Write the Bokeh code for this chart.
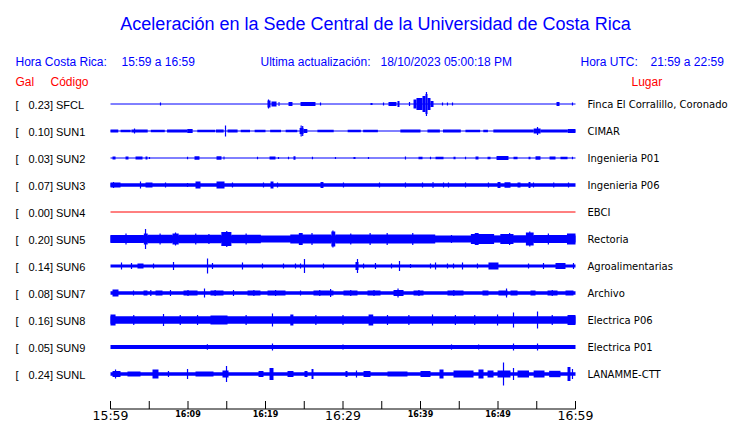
from bokeh.plotting import figure
from bokeh.models import Range1d, ColumnDataSource
from bokeh.core.properties import value
from bokeh.embed import file_html
from bokeh.resources import INLINE

# ---------------- data ----------------
codes = ["SFCL", "SUN1", "SUN2", "SUN3", "SUN4", "SUN5", "SUN6", "SUN7", "SUN8", "SUN9", "SUNL"]
gal = [0.23, 0.10, 0.03, 0.07, 0.00, 0.20, 0.14, 0.08, 0.16, 0.05, 0.24]
places = ["Finca El Corralillo, Coronado", "CIMAR", "Ingenieria P01", "Ingenieria P06", "EBCI",
          "Rectoria", "Agroalimentarias", "Archivo", "Electrica P06", "Electrica P01", "LANAMME-CTT"]

# background noise half-band of each trace (relative amplitude; 0 = flat line)
noise_band = [0, 0, 0, 1.8, 0, 3.5, 1.5, 1.7, 3.8, 2.0, 1.7]

# bursts: (start minute, end minute, half amplitude); minutes after 15:59
sfcl_bursts = [(20.26, 20.65, 3.5), (20.77, 21.42, 2.5), (21.68, 21.81, 2), (22.97, 23.48, 2),
               (24.52, 26.45, 2), (33.55, 33.81, 1), (35.87, 36.90, 2), (37.03, 37.29, 3),
               (39.10, 39.48, 4.5), (39.48, 40.26, 6), (40.26, 40.65, 8), (40.65, 40.90, 10),
               (40.90, 41.29, 6), (41.29, 41.68, 3), (57.55, 57.94, 2)]
sfcl_spikes = [(6.45, 1.5), (20.39, 4.5), (27.10, 1.5), (35.23, 1.5), (38.58, 2), (40.77, 12),
               (42.84, 1.5), (43.48, 1.5), (44.13, 1.5), (59.61, 1.5)]

sun1_bursts = [(0.0, 1.0, 1.5), (1.3, 2.6, 1.2), (2.7, 4.8, 1.5), (5.2, 7.0, 1.2), (7.3, 9.9, 1.5),
               (9.9, 10.6, 2), (11.2, 13.5, 1.2), (13.6, 14.6, 1.5), (15.1, 16.4, 1.5),
               (16.8, 18.0, 1.2), (18.6, 20.0, 1.2), (20.6, 22.0, 1.2), (22.6, 24.1, 1.2),
               (24.4, 24.9, 3), (24.9, 25.4, 2), (26.7, 28.8, 1.2), (30.6, 32.3, 1.2),
               (32.6, 34.5, 1.2), (37.4, 40.0, 1.5), (40.9, 42.5, 1.5), (42.9, 45.2, 1.5),
               (45.8, 47.7, 1.2), (48.1, 48.7, 1.2), (49.4, 54.6, 1.5), (54.6, 55.5, 2.5),
               (55.5, 59.0, 1.5), (59.0, 60.0, 2)]
sun1_spikes = [(3.10, 2.5), (14.84, 5.5), (24.6, 5.5), (24.8, 5), (55.10, 4)]

sun2_bursts = [(0.26, 0.65, 1.5), (1.94, 2.32, 1.5), (3.23, 4.13, 1.5), (4.52, 4.77, 1.5),
               (10.84, 11.48, 1.8), (13.68, 14.32, 1.8), (14.58, 14.71, 1.5), (20.52, 21.29, 1.5),
               (23.61, 23.87, 1.8), (31.35, 31.61, 1), (39.74, 40.26, 1.2), (41.94, 42.97, 1.2),
               (44.26, 44.52, 1.2), (47.10, 47.48, 1.5), (48.65, 49.03, 1.2), (49.81, 51.35, 2),
               (52.0, 52.52, 1.2), (53.94, 54.19, 1.2), (54.84, 55.48, 1.8), (56.65, 57.42, 1.5),
               (58.06, 58.97, 1.2)]
sun2_spikes = [(5.03, 1), (9.94, 1.2), (18.97, 1.2), (21.68, 1), (22.97, 1.2), (26.06, 1.2),
               (29.03, 1), (33.29, 1), (38.06, 1.5), (41.29, 1.2), (45.81, 1.2), (59.61, 1.2)]

sun3_bursts = [(0.0, 1.29, 2.5), (4.52, 5.42, 2.5), (10.97, 11.61, 3.5), (13.68, 14.71, 3.5),
               (20.65, 21.03, 3.5), (27.10, 27.48, 3), (41.55, 41.68, 3), (49.94, 50.32, 3),
               (50.84, 51.61, 2.8), (52.52, 52.90, 2.5), (53.94, 54.19, 3)]
sun3_spikes = [(0.39, 3), (3.87, 3.5), (7.10, 2.5), (9.94, 2), (15.74, 2.5), (19.74, 2.5),
               (21.55, 2.5), (30.06, 2.5), (34.71, 2.5), (38.06, 2.5), (40.26, 2.5), (42.97, 2.5),
               (43.61, 2.5), (45.81, 2.5), (48.77, 2.5), (54.58, 2.5), (57.19, 2.5), (59.10, 2.5)]

sun4_bursts = []
sun4_spikes = []

sun5_bursts = [(0.0, 4.3, 4), (4.3, 4.8, 5.5), (4.8, 8.0, 4.2), (8.0, 8.8, 5.5), (8.8, 14.3, 4.2),
               (14.3, 15.6, 7), (15.6, 19.4, 4.2), (19.4, 23.2, 3), (23.2, 28.5, 4.5),
               (24.3, 24.8, 6), (28.5, 29.0, 7.5), (29.0, 41.9, 4.5), (41.9, 46.5, 2.8),
               (46.5, 49.5, 5), (47.0, 47.5, 6), (49.5, 50.3, 3.2), (50.3, 52.0, 5),
               (52.0, 53.6, 3.5), (53.6, 54.6, 6.5), (54.6, 58.9, 4), (58.9, 60.0, 5.5)]
sun5_spikes = [(4.52, 10), (8.39, 6.5), (15.0, 8), (28.7, 8.5), (54.1, 7.5), (2.0, 5.5),
               (6.4, 5.5), (11.0, 5.5), (12.7, 5), (17.5, 5.5), (26.0, 6), (31.0, 5.5),
               (33.5, 6), (35.7, 6), (39.0, 6), (44.0, 4), (51.5, 6), (56.5, 5.5)]

sun6_bursts = [(3.48, 4.26, 2.5), (31.61, 32.0, 4), (48.77, 50.06, 3.5), (57.42, 58.71, 3)]
sun6_spikes = [(1.42, 3.5), (2.71, 3), (5.55, 2.5), (8.13, 4), (12.52, 7.5), (13.16, 3),
               (17.03, 3.5), (19.61, 2.5), (22.32, 2.5), (23.87, 2.5), (24.52, 2.5), (25.03, 7),
               (27.48, 2.5), (31.87, 7), (32.65, 2.5), (34.19, 3), (36.26, 2.5), (37.29, 5),
               (38.71, 2), (41.29, 2.5), (41.94, 3.5), (43.48, 2.5), (44.26, 2.5), (45.42, 3.5),
               (47.35, 2.5), (53.94, 2.5), (55.87, 3), (59.74, 3)]

sun7_bursts = [(0.26, 1.03, 3.5), (4.26, 4.77, 2.5), (5.81, 6.71, 2.5), (9.42, 11.23, 2.5),
               (12.90, 14.58, 2.5), (17.68, 19.35, 2.5), (20.26, 22.58, 2.5), (26.19, 28.77, 2.5),
               (30.06, 31.87, 2.5), (33.16, 34.84, 2.5), (36.52, 37.81, 3), (39.10, 40.39, 2.5),
               (43.48, 45.55, 2.5), (48.0, 48.77, 2.5), (50.06, 51.23, 2.5), (51.61, 52.52, 2.5),
               (54.19, 54.84, 2.5), (56.39, 57.68, 2.5), (58.71, 59.74, 2.5)]
sun7_spikes = [(2.97, 2.5), (7.74, 3), (12.13, 4.5), (15.87, 3), (24.52, 2.5), (28.4, 4),
               (37.1, 4.5), (51.1, 4.5), (5.2, 3), (10.0, 3), (13.5, 3), (18.5, 3), (21.3, 3),
               (27.0, 3), (31.0, 3), (34.0, 3), (39.8, 3), (44.3, 3), (57.0, 3)]

sun8_bursts = [(0.0, 0.65, 5.5), (12.9, 15.1, 4.5), (23.2, 23.6, 5.5), (33.3, 33.9, 5.5),
               (58.97, 60.0, 5)]
sun8_spikes = [(6.84, 6), (11.23, 5), (20.90, 6.5), (35.74, 5), (41.55, 5.5), (49.94, 5.5),
               (52.0, 7.5), (55.10, 8.5), (3.0, 5), (9.0, 5), (17.5, 5), (26.5, 5), (30.0, 5),
               (38.5, 5), (44.5, 5), (47.0, 5), (57.0, 5)]

sun9_bursts = []
sun9_spikes = [(20.9, 3.5), (52.0, 3.5), (55.1, 3.5), (12.5, 2.8), (30.0, 2.6), (44.0, 2.6),
               (47.5, 2.6)]

sunl_bursts = [(0.26, 1.29, 3), (2.19, 3.87, 2.5), (5.42, 6.19, 4.5), (10.97, 13.29, 2.5),
               (14.45, 15.23, 3.5), (19.10, 19.74, 3), (20.52, 21.03, 6), (22.84, 23.61, 3),
               (25.03, 25.42, 3), (25.94, 26.19, 5), (30.32, 30.58, 3), (32.65, 33.55, 3),
               (35.74, 38.32, 2.5), (40.0, 41.29, 3), (42.45, 42.97, 4.5), (44.26, 46.84, 3.5),
               (47.48, 48.13, 4.5), (48.65, 49.42, 3.5), (49.94, 51.61, 3.5), (52.52, 54.0, 3.5),
               (54.6, 56.0, 3.5), (56.6, 58.06, 3.2), (58.97, 59.35, 7)]
sunl_spikes = [(0.65, 4.5), (7.48, 3), (9.94, 5), (14.97, 8), (20.77, 6), (31.74, 3.5),
               (50.71, 11.5), (52.0, 6), (59.61, 5)]

station_bursts = [sfcl_bursts, sun1_bursts, sun2_bursts, sun3_bursts, sun4_bursts, sun5_bursts,
                  sun6_bursts, sun7_bursts, sun8_bursts, sun9_bursts, sunl_bursts]
station_spikes = [sfcl_spikes, sun1_spikes, sun2_spikes, sun3_spikes, sun4_spikes, sun5_spikes,
                  sun6_spikes, sun7_spikes, sun8_spikes, sun9_spikes, sunl_spikes]

tick_minutes = list(range(0, 61, 5))
big_tick_minutes = [0, 30, 60]
big_tick_labels = ["15:59", "16:29", "16:59"]
small_tick_minutes = [10, 20, 40, 50]
small_tick_labels = ["16:09", "16:19", "16:39", "16:49"]

title_text = "Aceleración en la Sede Central de la Universidad de Costa Rica"
hora_cr_label, hora_cr_value = "Hora Costa Rica:", "15:59 a 16:59"
update_label, update_value = "Ultima actualización:", "18/10/2023 05:00:18 PM"
hora_utc_label, hora_utc_value = "Hora UTC:", "21:59 a 22:59"

# ---------------- layout ----------------
W, H = 740, 423
PX0, PPM = 110.0, 7.75        # px of minute 0, px per minute
ROW0, ROW_H = 103.5, 27.0     # px of first row, row spacing
AMP = 1.0 / ROW_H             # one amplitude unit in row units

def tx(px):  # px -> minutes
    return (px - PX0) / PPM

def ty(py):  # px -> rows
    return (py - ROW0) / ROW_H

p = figure(width=W, height=H, output_backend="svg", toolbar_location=None,
           x_range=Range1d(-PX0 / PPM, (W - PX0) / PPM),
           y_range=Range1d((H - ROW0) / ROW_H, -ROW0 / ROW_H),
           x_axis_type=None, y_axis_type=None, min_border=0)
p.grid.visible = False
p.outline_line_color = None
p.background_fill_color = "white"
p.border_fill_color = "white"

BLUE = "#0000ff"
RED = "#ff0000"
ARIAL = value("Liberation Sans")
DEJAVU = value("DejaVu Sans")

rows = list(range(len(codes)))

# baselines for flat traces
for i in rows:
    col = RED if gal[i] == 0 else BLUE
    if noise_band[i] == 0:
        p.line([0, 60], [i, i], line_color=col, line_width=1)

# noise bands
band_rows = [i for i in rows if noise_band[i] > 0]
p.quad(left=[0] * len(band_rows), right=[60] * len(band_rows),
       bottom=[i - noise_band[i] * AMP for i in band_rows],
       top=[i + noise_band[i] * AMP for i in band_rows],
       fill_color=BLUE, line_color=None)

# bursts
bl, br, bb, bt = [], [], [], []
for i in rows:
    for (t0, t1, a) in station_bursts[i]:
        bl.append(t0); br.append(t1); bb.append(i - a * AMP); bt.append(i + a * AMP)
p.quad(source=ColumnDataSource(dict(left=bl, right=br, bottom=bb, top=bt)),
       left="left", right="right", bottom="bottom", top="top",
       fill_color=BLUE, line_color=None)

# spikes
sx, sy0, sy1 = [], [], []
for i in rows:
    for (t, a) in station_spikes[i]:
        sx.append(t); sy0.append(i - a * AMP); sy1.append(i + a * AMP)
p.segment(x0=sx, y0=sy0, x1=sx, y1=sy1, line_color=BLUE, line_width=1.2)

# title and header
p.text(x=[tx(375)], y=[ty(23)], text=[title_text], text_font=ARIAL, text_font_size="18px",
       text_color=BLUE, text_align="center", text_baseline="middle")
p.text(x=[tx(15), tx(121), tx(260), tx(380), tx(580), tx(650)], y=[ty(61)] * 6,
       text=[hora_cr_label, hora_cr_value, update_label, update_value, hora_utc_label, hora_utc_value],
       text_font=ARIAL, text_font_size="12px", text_color=BLUE,
       text_align="left", text_baseline="middle")
p.text(x=[tx(15), tx(50), tx(631)], y=[ty(81)] * 3, text=["Gal", "Código", "Lugar"],
       text_font=ARIAL, text_font_size="12px", text_color=RED,
       text_align="left", text_baseline="middle")

# station labels
p.text(x=[tx(15)] * len(rows), y=[r + 0.03 for r in rows], text=["["] * len(rows),
       text_font=ARIAL, text_font_size="11px", text_color="black",
       text_align="left", text_baseline="middle")
p.text(x=[tx(28)] * len(rows), y=[r + 0.03 for r in rows],
       text=[f"{g:.2f}] {c}" for g, c in zip(gal, codes)],
       text_font=ARIAL, text_font_size="11px", text_color="black",
       text_align="left", text_baseline="middle")
p.text(x=[tx(587)] * len(rows), y=[r + 0.03 for r in rows], text=places,
       text_font=DEJAVU, text_font_size="10px", text_color="black",
       text_align="left", text_baseline="middle")

# time axis
ax_y = ty(408.5)
p.line([0, 60], [ax_y, ax_y], line_color="black", line_width=1)
p.segment(x0=tick_minutes, y0=[ty(400.5)] * len(tick_minutes), x1=tick_minutes,
          y1=[ax_y] * len(tick_minutes), line_color="black", line_width=1)
p.text(x=big_tick_minutes, y=[ty(415)] * 3, text=big_tick_labels, text_font=DEJAVU,
       text_font_size="12.5px", text_color="black", text_align="center", text_baseline="middle")
p.text(x=small_tick_minutes, y=[ty(414)] * 4, text=small_tick_labels, text_font=DEJAVU,
       text_font_size="8px", text_font_style="bold", text_color="black",
       text_align="center", text_baseline="middle")

open("out.html", "w").write(file_html(p, INLINE))
